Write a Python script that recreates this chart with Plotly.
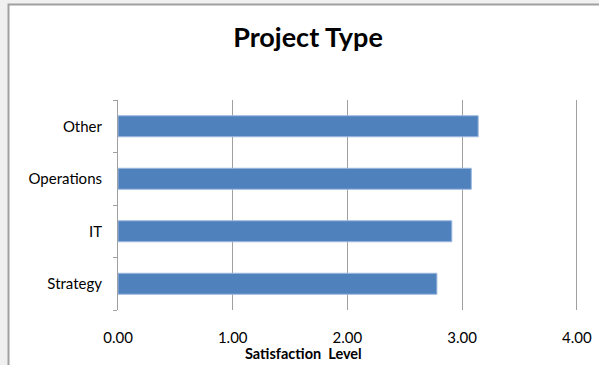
import plotly.graph_objects as go

categories = ["Strategy", "IT", "Operations", "Other"]
values = [2.78, 2.91, 3.08, 3.14]
tick_vals = [0, 1, 2, 3, 4]
tick_text = ["0.00", "1.00", "2.00", "3.00", "4.00"]

W, H = 599, 365
ml, mr, mt, mb = 118, 21, 100, 55
pw, ph = W - ml - mr, H - mt - mb

def px_x(p):
    return (p - ml) / pw

def px_y(p):
    return 1 - (p - mt) / ph

font_family = "Lato, 'Open Sans', sans-serif"

fig = go.Figure(
    go.Bar(
        x=values,
        y=categories,
        orientation="h",
        marker=dict(color="#4F81BD", line=dict(color="#9DB9DF", width=1)),
        width=0.4,
    )
)

fig.update_layout(
    width=W,
    height=H,
    margin=dict(l=ml, r=mr, t=mt, b=mb, autoexpand=False),
    paper_bgcolor="#F0F0F0",
    plot_bgcolor="rgba(0,0,0,0)",
    showlegend=False,
    title=dict(
        text="<b>Project Type</b>",
        x=308 / W,
        xanchor="center",
        y=1 - 38 / H,
        yanchor="middle",
        font=dict(family=font_family, size=27, color="#000000"),
    ),
    shapes=[
        dict(
            type="rect",
            xref="paper",
            yref="paper",
            x0=px_x(8.5),
            x1=px_x(W + 10),
            y0=px_y(H + 10),
            y1=px_y(4.5),
            fillcolor="#FFFFFF",
            line=dict(color="#A0A0A0", width=2),
            layer="below",
        )
    ],
    annotations=[
        dict(
            text="<b>Satisfaction  Level</b>",
            xref="paper",
            yref="paper",
            x=px_x(303),
            y=px_y(353),
            xanchor="center",
            yanchor="middle",
            showarrow=False,
            font=dict(family=font_family, size=14.5, color="#000000"),
        )
    ],
)

fig.update_xaxes(
    range=[0, 4.01],
    tickvals=tick_vals,
    ticktext=tick_text,
    showgrid=True,
    gridcolor="#A0A0A0",
    gridwidth=1,
    zeroline=False,
    showline=False,
    ticks="",
    automargin=False,
    ticklabelstandoff=17,
    tickfont=dict(family=font_family, size=15, color="#000000"),
)

fig.update_yaxes(
    categoryorder="array",
    categoryarray=categories,
    showline=True,
    linecolor="#A0A0A0",
    linewidth=1,
    ticks="outside",
    tickson="boundaries",
    ticklen=4,
    tickcolor="#A0A0A0",
    showgrid=False,
    automargin=False,
    ticklabelstandoff=12,
    tickfont=dict(family=font_family, size=15, color="#000000"),
)

fig.write_html("out.html")
